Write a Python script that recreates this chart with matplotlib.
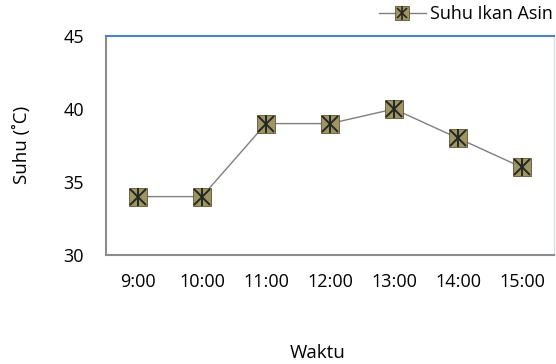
import matplotlib.pyplot as plt
from matplotlib.lines import Line2D

plt.rcParams['font.family'] = ['Open Sans', 'DejaVu Sans']

waktu = ["9:00", "10:00", "11:00", "12:00", "13:00", "14:00", "15:00"]
suhu = [34, 34, 39, 39, 40, 38, 36]
y_ticks = [30, 35, 40, 45]

fig = plt.figure(figsize=(5.56, 3.64), dpi=100)
ax = fig.add_axes([106 / 556, 1 - 255 / 364, 448 / 556, 219 / 364])

x = list(range(len(waktu)))
ax.plot(x, suhu, color="#7f7f7f", lw=1.0, zorder=2)
ax.plot(x, suhu, ls="none", marker="s", ms=13.5, mfc="#9e9660",
        mec="#5a5535", mew=0.6, zorder=3)
ax.plot(x, suhu, ls="none", marker="x", ms=11, mec="#262626", mew=1.4, zorder=4)
ax.plot(x, suhu, ls="none", marker="|", ms=13, mec="#262626", mew=1.4, zorder=4)

ax.set_xlim(-0.5, len(waktu) - 0.5)
ax.set_ylim(30, 45)
ax.set_xticks(x)
ax.set_xticklabels(waktu)
ax.set_yticks(y_ticks)
ax.tick_params(length=0, labelsize=13, colors="#000000")
ax.tick_params(axis="x", pad=13)
ax.tick_params(axis="y", pad=16)

for side in ["left", "bottom"]:
    ax.spines[side].set_color("#8c8c8c")
    ax.spines[side].set_linewidth(1.5)
ax.spines["top"].set_color("#4f81bd")
ax.spines["top"].set_linewidth(1.5)
ax.spines["right"].set_color("#d9dde6")
ax.spines["right"].set_linewidth(1.0)

ax.set_xlabel("Waktu", fontsize=13.5)
ax.xaxis.set_label_coords((318 - 106) / 448, -(353 - 255) / 219)
ax.xaxis.label.set_va("center")
ax.set_ylabel("Suhu (˚C)", fontsize=13.5)
ax.yaxis.set_label_coords(-(106 - 22) / 448, (255 - 145) / 219)
ax.yaxis.label.set_va("center")

handle = (Line2D([], [], color="#7f7f7f", lw=1.0, marker="s", ms=9.5,
                 mfc="#9e9660", mec="#5a5535", mew=0.6),
          Line2D([], [], ls="none", marker="x", ms=7.5, mec="#262626", mew=1.2),
          Line2D([], [], ls="none", marker="|", ms=9.5, mec="#262626", mew=1.2))
fig.legend([handle], ["Suhu Ikan Asin"], loc="upper right",
           bbox_to_anchor=(1.0, 0.995), frameon=False, fontsize=13,
           handlelength=2.6, handletextpad=0.2, borderaxespad=0.1,
           borderpad=0.1)

fig.savefig("out.png", dpi=100)
